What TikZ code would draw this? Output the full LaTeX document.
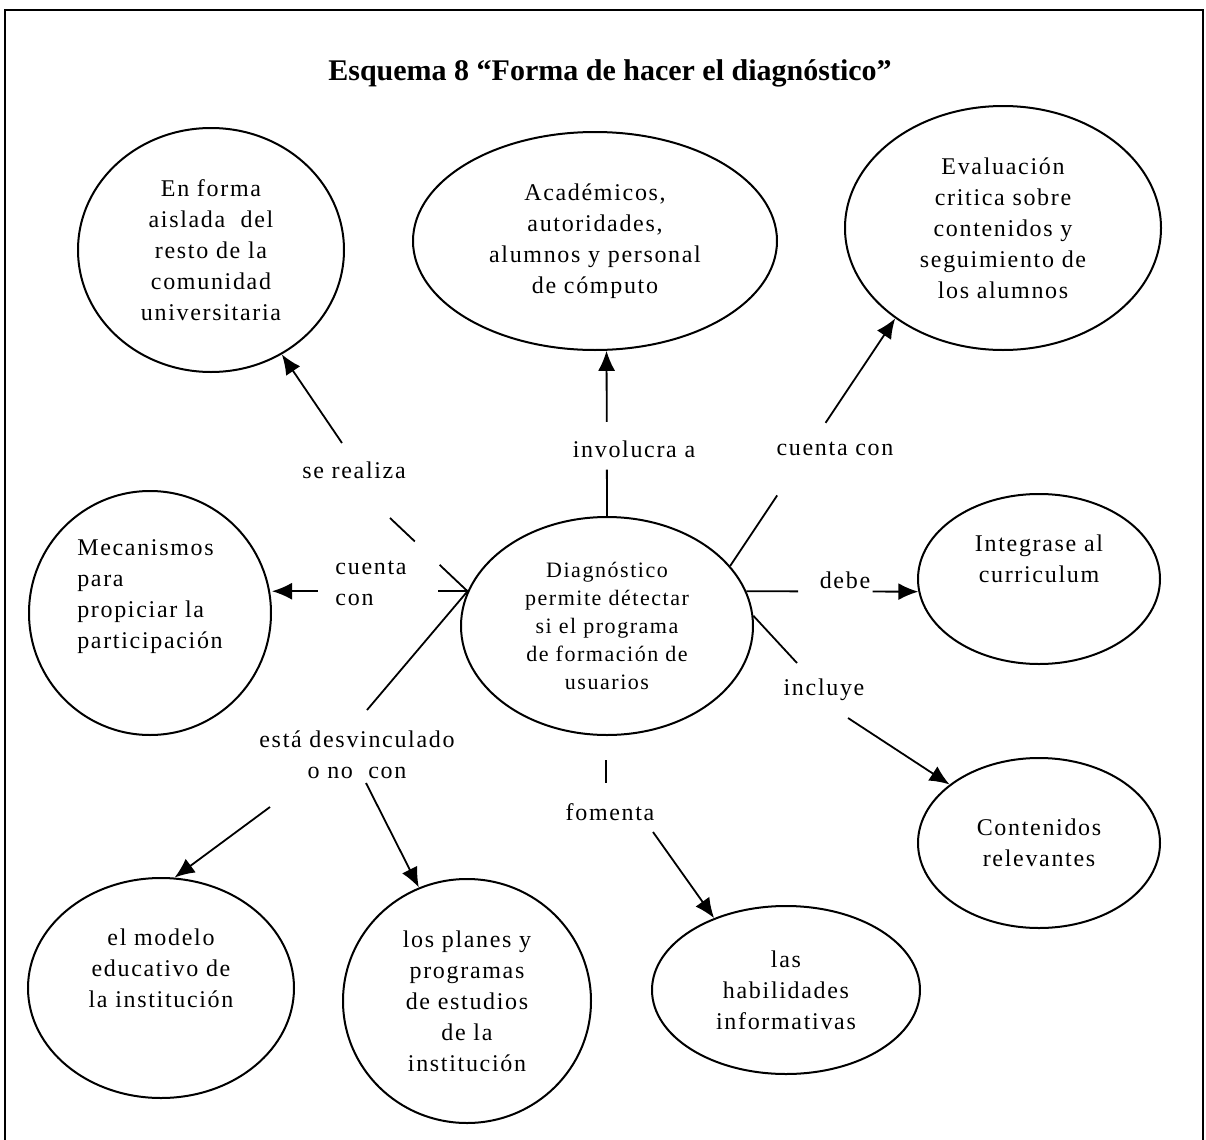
\documentclass[tikz,border=0pt]{standalone}
\usepackage{fontspec}
\setmainfont{Liberation Serif}
\newfontfamily\globofont[LetterSpace=7]{Liberation Serif}
\usetikzlibrary{shapes.geometric,calc,arrows.meta}
\tikzset{>={Latex[length=10pt,width=8.5pt]}}
\tikzset{
  burbuja/.style={draw,ellipse,line width=1pt,inner sep=0pt,align=center,
    font=\globofont\fontsize{12}{15.5}\selectfont},
  rotulo/.style={inner sep=0pt,align=center,font=\globofont\fontsize{12}{15.5}\selectfont},
  linea/.style={line width=0.9pt},
}

\begin{document}
\begin{tikzpicture}[x=0.5pt,y=-0.5pt]
  \useasboundingbox (0,0) rectangle (1206,1140);
  % Frame and title
  \draw[line width=1pt] (5,1140) -- (5,10) -- (1203,10) -- (1203,1140);
  \node[font=\bfseries\fontsize{15}{18}\selectfont] (titulo) at (610,73) {Esquema 8 “Forma de hacer el diagnóstico”};

  % Bubbles
  \node[burbuja,minimum width=146pt,minimum height=109pt,font=\globofont\fontsize{11}{14}\selectfont] (diag) at (607,626)
    {Diagnóstico\\permite détectar\\si el programa\\de formación de\\usuarios};
  \node[burbuja,minimum width=133pt,minimum height=122pt] (forma) at (211,250)
    {En forma\\aislada~ del\\resto de la\\comunidad\\universitaria};
  \node[burbuja,minimum width=182pt,minimum height=109pt] (actores) at (595,241)
    {Académicos,\\autoridades,\\alumnos y personal\\de cómputo};
  \node[burbuja,minimum width=158pt,minimum height=122pt] (evalua) at (1003,228)
    {Evaluación\\critica sobre\\contenidos y\\seguimiento de\\los alumnos};
  \node[burbuja,minimum width=121pt,minimum height=122pt,align=left] (mecan) at (150,613)
    {Mecanismos\\para\\propiciar la\\participación\\[3pt]\mbox{}};
  \node[burbuja,minimum width=121pt,minimum height=85pt] (integ) at (1039,579)
    {Integrase al\\curriculum\\[4.5pt]\mbox{}};
  \node[burbuja,minimum width=121pt,minimum height=85pt] (conten) at (1039,843)
    {Contenidos\\relevantes};
  \node[burbuja,minimum width=133pt,minimum height=110pt] (modelo) at (161,988)
    {el modelo\\educativo de\\la institución\\[4.5pt]\mbox{}};
  \node[burbuja,minimum width=124pt,minimum height=122pt] (planes) at (467,1001)
    {los planes y\\programas\\de estudios\\de la\\institución};
  \node[burbuja,minimum width=134pt,minimum height=84pt] (habil) at (786,990)
    {las\\habilidades\\informativas};

  % Lines
  \coordinate (sr1) at (390,518);
  \coordinate (sr2) at (342,443);
  \draw[linea] (diag.166) -- ($(diag.166)!0.36!(sr1)$);
  \draw[linea] ($(diag.166)!0.68!(sr1)$) -- (sr1);
  \draw[linea,->] (sr2) -- (forma);

  \coordinate (cl1) at ($(diag.166)+(-30,0)$);
  \coordinate (cl2) at ($(diag.166)+(-150,0)$);
  \draw[linea] (diag.166) -- (cl1);
  \draw[linea,->] (cl2) -- (cl2 -| mecan.east);

  \draw[linea] (diag.north) -- ($(diag.north)!0.28!(actores.276)$);
  \draw[linea,->] ($(diag.north)!0.57!(actores.276)$) -- (actores.276);

  \draw[linea] (diag.26) -- ($(diag.26)!0.285!(evalua.220)$);
  \draw[linea,->] ($(diag.26)!0.578!(evalua.220)$) -- (evalua.220);

  \draw[linea] (diag.14) -- ($(diag.14)!0.30!(integ.186)$);
  \draw[linea,->] ($(diag.14)!0.734!(integ.186)$) -- (integ.186);

  \coordinate (ic1) at (797,663);
  \coordinate (ic2) at (848,718);
  \draw[linea] (diag.4) -- (ic1);
  \draw[linea,->] (ic2) -- (conten);

  \coordinate (fm0) at (606,760);
  \coordinate (fm1) at (606,783);
  \coordinate (fm2) at (653,832);
  \draw[linea] (fm0) -- (fm1);
  \draw[linea,->] (fm2) -- (habil.135);

  \coordinate (ed1) at (367,710);
  \coordinate (ed2) at (270,807);
  \coordinate (ed3) at (366,783);
  \draw[linea] (diag.166) -- (ed1);
  \draw[linea,->] (ed2) -- (modelo.83);
  \draw[linea,->] (ed3) -- (planes.113);

  % Labels
  \node[rotulo] (sereal) at (354,470) {se realiza};
  \node[rotulo,align=left] (cuental) at (371,583) {cuenta\\con};
  \node[rotulo] (invol) at (634,449) {involucra a};
  \node[rotulo] (cuentar) at (835,449) {cuenta con};
  \node[rotulo] (debe) at (845,580) {debe};
  \node[rotulo] (incl) at (824,690) {incluye};
  \node[rotulo] (desv) at (357,755) {está desvinculado\\o no\ \ con};
  \node[rotulo] (foment) at (610,812) {fomenta};
\end{tikzpicture}
\end{document}
